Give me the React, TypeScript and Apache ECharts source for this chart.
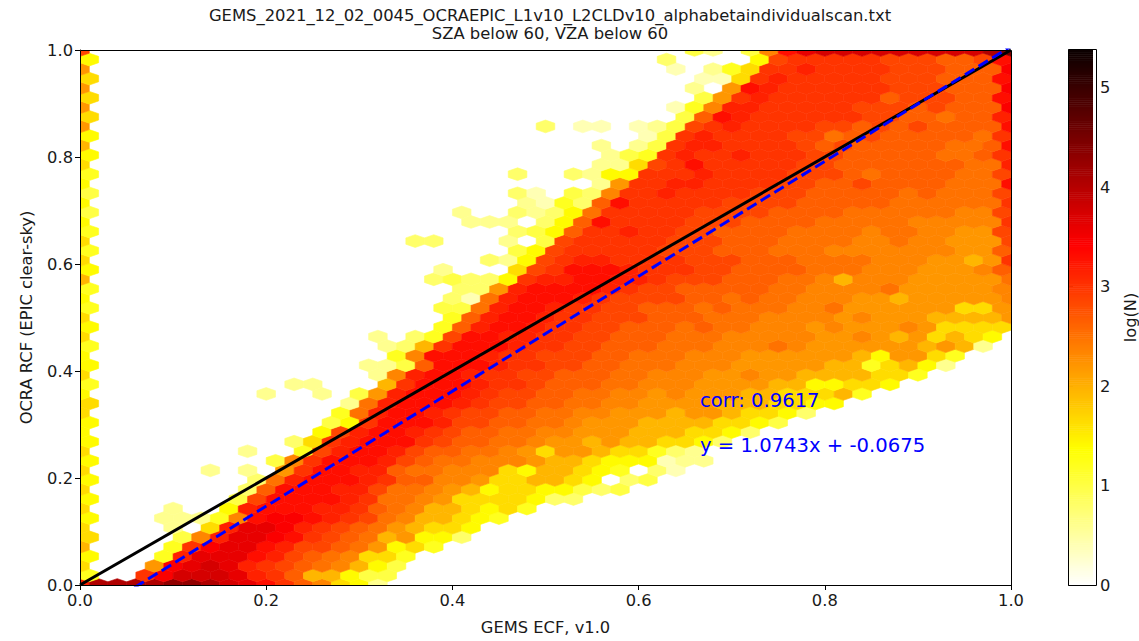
import React, { useEffect, useRef } from "react";
import * as echarts from "echarts";

const titleLines = [
  "GEMS_2021_12_02_0045_OCRAEPIC_L1v10_L2CLDv10_alphabetaindividualscan.txt",
  "SZA below 60, VZA below 60",
];
const xName = "GEMS ECF, v1.0";
const yName = "OCRA RCF (EPIC clear-sky)";
const cbName = "log(N)";
const cbTicks = [0, 1, 2, 3, 4, 5];
const cbMax = 5.38;
const corrText = "corr: 0.9617";
const fitText = "y = 1.0743x + -0.0675";
const oneToOne = [[0, 0], [1, 1]];
const fitLine = [[0, -0.0675], [1, 1.0068]];

// hexbin lattice: 50 columns, 28 rows
const gridX = 50;
const gridY = 28;
// one char per hexagon, read as log N through levelValues; "." = empty
const levelCodes = "0123456789abcdefghijklmnopqr";
const levelValues = [
  0, 0.2, 0.4, 0.6, 0.8, 1, 1.2, 1.4, 1.65, 1.95, 2.2, 2.35, 2.5, 2.65, 2.85, 3.0, 3.15, 3.3, 3.45, 3.6, 3.75, 4.05,
  4.3, 4.5, 4.7, 4.9, 5.1, 5.3,
];
// values of the first column (x = 0 / 0.01), rows 0..56
const leftColumn = "g687988787878787778876877687867697868675757687" + "97a8a8a8a7e";
const rowStarts = [
  1, 3, 4, 4, 5, 5, 5, 4, 5, 8, 9, 9, 7, 10, 9, 11, 13, 13, 14, 14, 10, 11, 16, 15, 17, 16, 16, 19, 20,
  19, 20, 20, 19, 19, 22, 23, 18, 23, 21, 20, 24, 23, 28, 23, 28, 28, 28, 30, 25, 32, 32, 33, 33, 33, 32, 31, 33,
];
const rowValues = [
  "llllmmlkjhfdb873",
  "fikkkjgfd99755",
  "aijkjgfedcb975",
  "6gjjjhgedcb886",
  "6fijjhgeedca786",
  "5bgjjihfedc9a774",
  "3.8gjjigfedca9887",
  "3336bhiihgfecb99876",
  "3..7ghhhggfdcb998786",
  "5ehhhhgfccba8888744",
  "4dhhhggeccba978877545",
  "4cghhhgfddbba889987.45",
  "3.3.afhhggdccbbb8799876.42",
  "5bfhhhgedccbbba998777233",
  "3..6eghhgeddccba8aa988643",
  "48fghhhfeddccbaa9a998874",
  "7eghhgfeddccbbaaa9998874",
  "57fhhhgeeddccbaaa99998875",
  "6cghhgfeeddccbbaaa9aa98874",
  "3cghhhgfeeddccbbaaaa9998877",
  "3..3.5aghhhgfeeddccbbabaaa9988896",
  "33...9fhhhgffedddccbbbaaaa9977887",
  "3bghhgffeedddccbbbaabaa9999886",
  "335dhhhgffeeddcccbbbaaaaa9968973",
  "6bhhhgffeeeddcccbbbaaaaaa97aa86",
  "349fhhhgffeedddcccbbbcbaaaaaa9a93",
  "3.46ehhggffeedddcccbbbbbaaba9a8987",
  "6dghhgffeedddcdccbbbabaaaba8888",
  "6dghhgffeeedddcccbbbbabaaa9999a",
  "55cghhgffeedddcdcccbbcaaaaaa88a",
  "42cghhhgfeeeeddcdccbbbaa9aaaaab",
  "44aghhhhgfeedddddccbbbbcaaaaab",
  "45447fgghhggfeeedddccb9bbbaaaaac",
  "3...8efhhhgfffeeddddcccbbbaaabd",
  "437efggffffeeedddccccbbbaa9af",
  "57efffffeeedddcccbbbbbbbaad",
  "44...3.5efffffeeedddccccbbcbbaaae",
  "457dffgffeeddddccccbccbbaae",
  "333.47dhffffeeeddddcccccbbbbbf",
  "3..4347cfffffeeeeddddccccccbbe",
  "3264dhfffffeeeedddddccccccf",
  "42.54bffgffffeeedddddcdccce",
  "3affggffffeeddeddddccch",
  "4..4377fffgffffeeedcddddcce",
  "338efhfffffeedddddddccg",
  "356fgffgfffeedddddccdf",
  "3.35fggffffededddddccdh",
  "25fgffffeecdedddddcf",
  "4.22.235efgffffeedededdddh",
  "5dhgffffffeeddcddg",
  "26bggfffffeeededddi",
  "5afgffffffdeeeddh",
  "3.ahgffffffeeedddi",
  "228fgfffffeeedddh",
  "2.368ffgffffeeedddi",
  "4....7efffffeeeddeh",
  "53.5bhjkkkkkkkkkln",
];

function hotR(v: number): string {
  const u = Math.max(0, Math.min(1, 1 - v / cbMax));
  const r = u < 0.365 ? 0.0416 + (0.9584 * u) / 0.365 : 1;
  const g = u < 0.365 ? 0 : u < 0.746 ? (u - 0.365) / 0.381 : 1;
  const b = u < 0.746 ? 0 : (u - 0.746) / 0.254;
  return `rgb(${Math.round(r * 255)},${Math.round(g * 255)},${Math.round(b * 255)})`;
}

function buildHexes(): number[][] {
  const out: number[][] = [];
  const put = (r: number, col: number, ch: string) => {
    const idx = levelCodes.indexOf(ch);
    if (idx < 0) return;
    const odd = r % 2 === 1;
    const x = (col + (odd ? 0.5 : 0)) / gridX;
    const y = r / (2 * gridY);
    out.push([x, y, levelValues[idx]]);
  };
  rowValues.forEach((row, r) => {
    put(r, 0, leftColumn[r]);
    for (let i = 0; i < row.length; i++) put(r, rowStarts[r] + i, row[i]);
  });
  return out;
}

export default function App() {
  const ref = useRef<HTMLDivElement>(null);
  useEffect(() => {
    const chart = echarts.init(ref.current!, undefined, { renderer: "svg" });
    const font = "DejaVu Sans";
    const fs = 16.3;
    const ink = "#1a1a1a";
    const sx = 1 / gridX / 2;
    const sy = 1 / gridY / 3;
    const cbData = Array.from({ length: 256 }, (_, i) => [i]);
    const tickAxis = {
      type: "value",
      min: 0,
      max: 1,
      interval: 0.2,
      splitLine: { show: false },
      axisLine: { show: true, onZero: false, lineStyle: { color: "#000", width: 1 } },
      axisTick: { show: true, length: 5, lineStyle: { color: "#000", width: 1 } },
      axisLabel: {
        color: ink,
        fontFamily: font,
        fontSize: fs,
        margin: 7,
        showMinLabel: true,
        showMaxLabel: true,
        formatter: (v: number) => v.toFixed(1),
      },
      nameLocation: "middle",
      nameTextStyle: { color: ink, fontFamily: font, fontSize: fs },
    };
    chart.setOption({
      animation: false,
      backgroundColor: "#fff",
      title: {
        text: titleLines.join("\n"),
        left: 545,
        top: 1,
        textAlign: "center",
        textStyle: { fontFamily: font, fontSize: 16.4, fontWeight: "normal", color: ink, lineHeight: 18 },
      },
      grid: [
        { left: 80, top: 50, width: 931, height: 535 },
        { left: 1068, top: 50, width: 28, height: 535 },
      ],
      xAxis: [
        { ...tickAxis, gridIndex: 0, name: xName, nameGap: 34 },
        { type: "value", gridIndex: 1, min: 0, max: 1, show: false },
      ],
      yAxis: [
        { ...tickAxis, gridIndex: 0, name: yName, nameGap: 46 },
        {
          type: "value",
          gridIndex: 1,
          min: 0,
          max: cbMax,
          position: "right",
          splitLine: { show: false },
          axisLine: { show: true, lineStyle: { color: "#000", width: 1 } },
          axisTick: { show: true, length: 5, lineStyle: { color: "#000" }, customValues: cbTicks },
          axisLabel: { color: ink, fontFamily: font, fontSize: fs, margin: 7, customValues: cbTicks },
          name: cbName,
          nameLocation: "middle",
          nameGap: 29,
          nameRotate: 90,
          nameTextStyle: { color: ink, fontFamily: font, fontSize: fs },
        },
      ],
      series: [
        {
          type: "custom",
          xAxisIndex: 0,
          yAxisIndex: 0,
          clip: true,
          z: 2,
          data: buildHexes(),
          renderItem: (_p: any, api: any) => {
            const x = api.value(0);
            const y = api.value(1);
            const v = api.value(2);
            const pts = [
              [x + sx, y - sy / 2],
              [x + sx, y + sy / 2],
              [x, y + sy],
              [x - sx, y + sy / 2],
              [x - sx, y - sy / 2],
              [x, y - sy],
            ].map((p) => api.coord(p));
            const c = hotR(v);
            return {
              type: "polygon",
              shape: { points: pts },
              style: { fill: c, stroke: c, lineWidth: 0.6 },
            };
          },
        },
        {
          type: "line",
          xAxisIndex: 0,
          yAxisIndex: 0,
          data: oneToOne,
          symbol: "none",
          z: 3,
          lineStyle: { color: "#000", width: 3 },
        },
        {
          type: "line",
          xAxisIndex: 0,
          yAxisIndex: 0,
          data: fitLine,
          symbol: "none",
          z: 4,
          clip: true,
          lineStyle: { color: "#0000ff", width: 3, type: [11, 5] },
        },
        {
          type: "custom",
          xAxisIndex: 1,
          yAxisIndex: 1,
          z: 2,
          data: cbData,
          renderItem: (_p: any, api: any) => {
            const i = api.value(0);
            const a = api.coord([0, (i / 256) * cbMax]);
            const b = api.coord([1, ((i + 1) / 256) * cbMax]);
            const c = hotR(((i + 0.5) / 256) * cbMax);
            return {
              type: "rect",
              shape: { x: a[0], y: b[1], width: b[0] - a[0], height: a[1] - b[1] + 0.5 },
              style: { fill: c },
            };
          },
        },
      ],
      graphic: [
        {
          type: "text",
          x: 700,
          y: 390,
          z: 50,
          style: { text: corrText, fill: "#0000ff", font: `19.6px "${font}"` },
        },
        {
          type: "text",
          x: 700,
          y: 435,
          z: 50,
          style: { text: fitText, fill: "#0000ff", font: `19.6px "${font}"` },
        },
        {
          type: "rect",
          z: 60,
          shape: { x: 80.5, y: 50.5, width: 931, height: 535 },
          style: { fill: "none", stroke: "#000", lineWidth: 1 },
        },
        {
          type: "rect",
          z: 60,
          shape: { x: 1068.5, y: 49.5, width: 28, height: 536 },
          style: { fill: "none", stroke: "#000", lineWidth: 1 },
        },
      ],
    });
    return () => chart.dispose();
  }, []);
  return <div ref={ref} style={{ position: "fixed", left: 0, top: 0, width: 1139, height: 641 }} />;
}
